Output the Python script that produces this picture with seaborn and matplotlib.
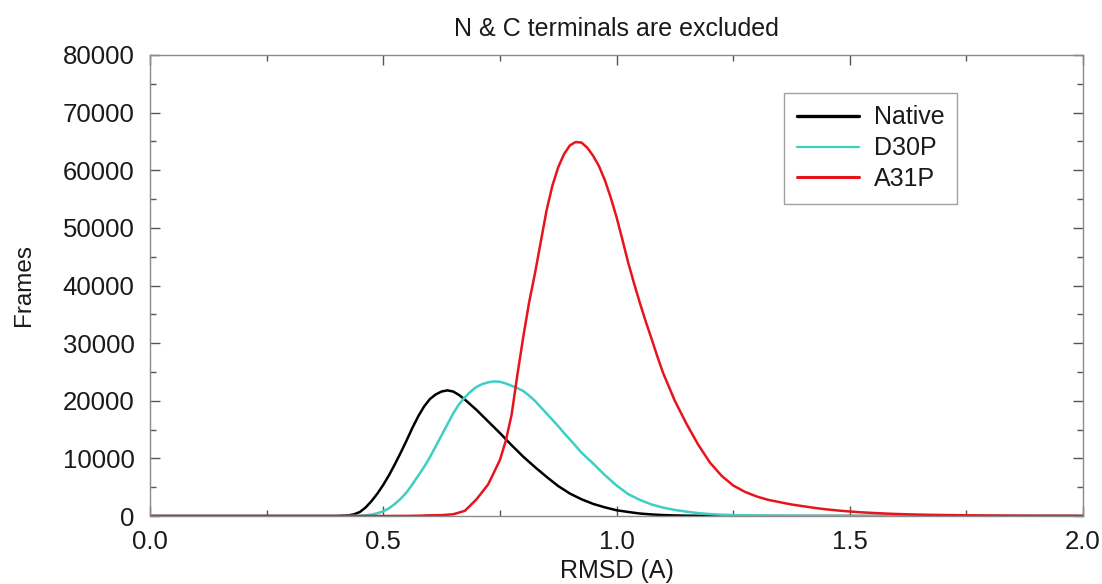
import numpy as np
import pandas as pd
import matplotlib
matplotlib.use("Agg")
import matplotlib.pyplot as plt
import seaborn as sns

# ---- data (RMSD in A, counts of frames) ----
native_x = [0.0, 0.4, 0.425, 0.4375, 0.45, 0.4625, 0.475, 0.4875, 0.5, 0.5125,
            0.525, 0.5375, 0.55, 0.5625, 0.575, 0.5875, 0.6, 0.6125, 0.625, 0.6375,
            0.65, 0.6625, 0.675, 0.6875, 0.7, 0.7125, 0.725, 0.7375, 0.75, 0.775,
            0.8, 0.825, 0.85, 0.875, 0.9, 0.925, 0.95, 0.975, 1.0, 1.025,
            1.05, 1.075, 1.1, 1.125, 1.15, 1.175, 1.2, 1.25, 1.3, 2.0]
native_y = [0, 0, 100, 300, 700, 1500, 2600, 3900, 5400, 7100,
            9000, 11000, 13100, 15300, 17300, 19000, 20300, 21100, 21600, 21800,
            21600, 21000, 20200, 19300, 18400, 17400, 16400, 15400, 14400, 12300,
            10300, 8500, 6800, 5200, 3900, 2900, 2100, 1500, 1000, 700,
            430, 270, 160, 100, 60, 35, 20, 5, 0, 0]

d30p_x = [0.0, 0.4, 0.45, 0.4625, 0.475, 0.4875, 0.5, 0.5125, 0.525, 0.5375,
          0.55, 0.5625, 0.575, 0.5875, 0.6, 0.6125, 0.625, 0.6375, 0.65, 0.6625,
          0.675, 0.6875, 0.7, 0.7125, 0.725, 0.7375, 0.75, 0.7625, 0.775, 0.7875,
          0.8, 0.8125, 0.825, 0.8375, 0.85, 0.8625, 0.875, 0.8875, 0.9, 0.925,
          0.95, 0.975, 1.0, 1.025, 1.05, 1.075, 1.1, 1.125, 1.15, 1.175,
          1.2, 1.225, 1.25, 1.275, 1.3, 1.325, 1.35, 1.375, 1.4, 1.45,
          1.5, 2.0]
d30p_y = [0, 0, 40, 120, 250, 480, 800, 1350, 2100, 3000,
          4100, 5500, 7000, 8500, 10200, 12100, 14000, 15900, 17800, 19400,
          20600, 21600, 22400, 22900, 23200, 23350, 23300, 23000, 22600, 22200,
          21700, 20900, 20000, 18900, 17800, 16700, 15600, 14400, 13300, 11000,
          9100, 7100, 5300, 3800, 2800, 2000, 1450, 1050, 750, 500,
          330, 220, 150, 110, 80, 55, 40, 30, 20, 10,
          0, 0]

a31p_x = [0.0, 0.5, 0.55, 0.575, 0.6, 0.625, 0.65, 0.675, 0.7, 0.725,
          0.75, 0.7625, 0.775, 0.7875, 0.8, 0.8125, 0.825, 0.8375, 0.85, 0.8625,
          0.875, 0.8875, 0.9, 0.9125, 0.925, 0.9375, 0.95, 0.9625, 0.975, 0.9875,
          1.0, 1.0125, 1.025, 1.0375, 1.05, 1.0625, 1.075, 1.0875, 1.1, 1.125,
          1.15, 1.175, 1.2, 1.225, 1.25, 1.275, 1.3, 1.325, 1.35, 1.375,
          1.4, 1.425, 1.45, 1.475, 1.5, 1.525, 1.55, 1.575, 1.6, 1.625,
          1.65, 1.675, 1.7, 1.725, 1.75, 1.775, 1.8, 1.825, 1.85, 1.875,
          1.9, 1.925, 1.95, 1.975, 2.0]
a31p_y = [0, 0, 20, 50, 120, 150, 300, 900, 2900, 5500,
          9700, 13000, 17500, 24500, 31000, 37000, 42000, 47500, 53000, 57300,
          60500, 62800, 64300, 64900, 64800, 63900, 62500, 60700, 58300, 55300,
          51900, 48000, 44000, 40400, 37000, 33800, 30800, 27700, 24800, 20000,
          16000, 12400, 9300, 7000, 5300, 4200, 3400, 2800, 2400, 2000,
          1700, 1400, 1150, 950, 780, 640, 530, 430, 350, 290,
          240, 200, 170, 150, 120, 100, 80, 65, 55, 45,
          35, 30, 25, 20, 15]

series_names = ["Native", "D30P", "A31P"]
series_colors = ["#000000", "#3CCFC4", "#E8141B"]

df = pd.concat([
    pd.DataFrame({"RMSD": native_x, "Frames": native_y, "Variant": "Native"}),
    pd.DataFrame({"RMSD": d30p_x, "Frames": d30p_y, "Variant": "D30P"}),
    pd.DataFrame({"RMSD": a31p_x, "Frames": a31p_y, "Variant": "A31P"}),
], ignore_index=True)

sns.set_theme(style="ticks")
plt.rcParams["font.family"] = ["Liberation Sans", "DejaVu Sans"]

fig = plt.figure(figsize=(11.02, 5.84), dpi=100)
ax = fig.add_axes([150/1102, 1 - 516/584, (1083-150)/1102, (516-55)/584])

sns.lineplot(data=df, x="RMSD", y="Frames", hue="Variant",
             hue_order=series_names, palette=series_colors,
             linewidth=1.8, ax=ax, legend=True, sort=False)

ax.set_xlim(0, 2.0)
ax.set_ylim(0, 80000)
ax.set_xticks([0.0, 0.5, 1.0, 1.5, 2.0])
ax.set_xticklabels(["0.0", "0.5", "1.0", "1.5", "2.0"])
ax.set_xticks([0.25, 0.75, 1.25, 1.75], minor=True)
ax.set_yticks(range(0, 80001, 10000))
ax.set_yticks(range(5000, 80000, 10000), minor=True)

frame_col = "#8a8a8a"
for s in ax.spines.values():
    s.set_color(frame_col)
    s.set_linewidth(1.0)
ax.tick_params(which="both", direction="in", top=True, right=True,
               color="#555555", labelsize=18.5, labelcolor="#1a1a1a")
ax.tick_params(which="major", length=7, width=1)
ax.tick_params(which="minor", length=4, width=1)
ax.tick_params(axis="x", pad=10)
ax.tick_params(axis="y", pad=11)

ax.set_xlabel("RMSD (A)", fontsize=18, color="#1a1a1a", labelpad=4)
ax.set_ylabel("Frames", fontsize=17.5, color="#1a1a1a", labelpad=20)
ax.set_title("N & C terminals are excluded", fontsize=18, color="#1a1a1a", pad=14)

leg = ax.legend(loc="upper left", bbox_to_anchor=((784-150)/933, 1 - (93-55)/461),
                fontsize=18, frameon=True, fancybox=False, handlelength=2.5,
                handletextpad=0.6, borderpad=0.5, labelspacing=0.27,
                borderaxespad=0)
leg.get_frame().set_edgecolor(frame_col)
leg.get_frame().set_linewidth(1.0)
for t in leg.get_texts():
    t.set_color("#1a1a1a")
for h, lw in zip(leg.get_lines(), [2.4, 1.6, 2.2]):
    h.set_linewidth(lw)

fig.savefig("out.png", dpi=100)
